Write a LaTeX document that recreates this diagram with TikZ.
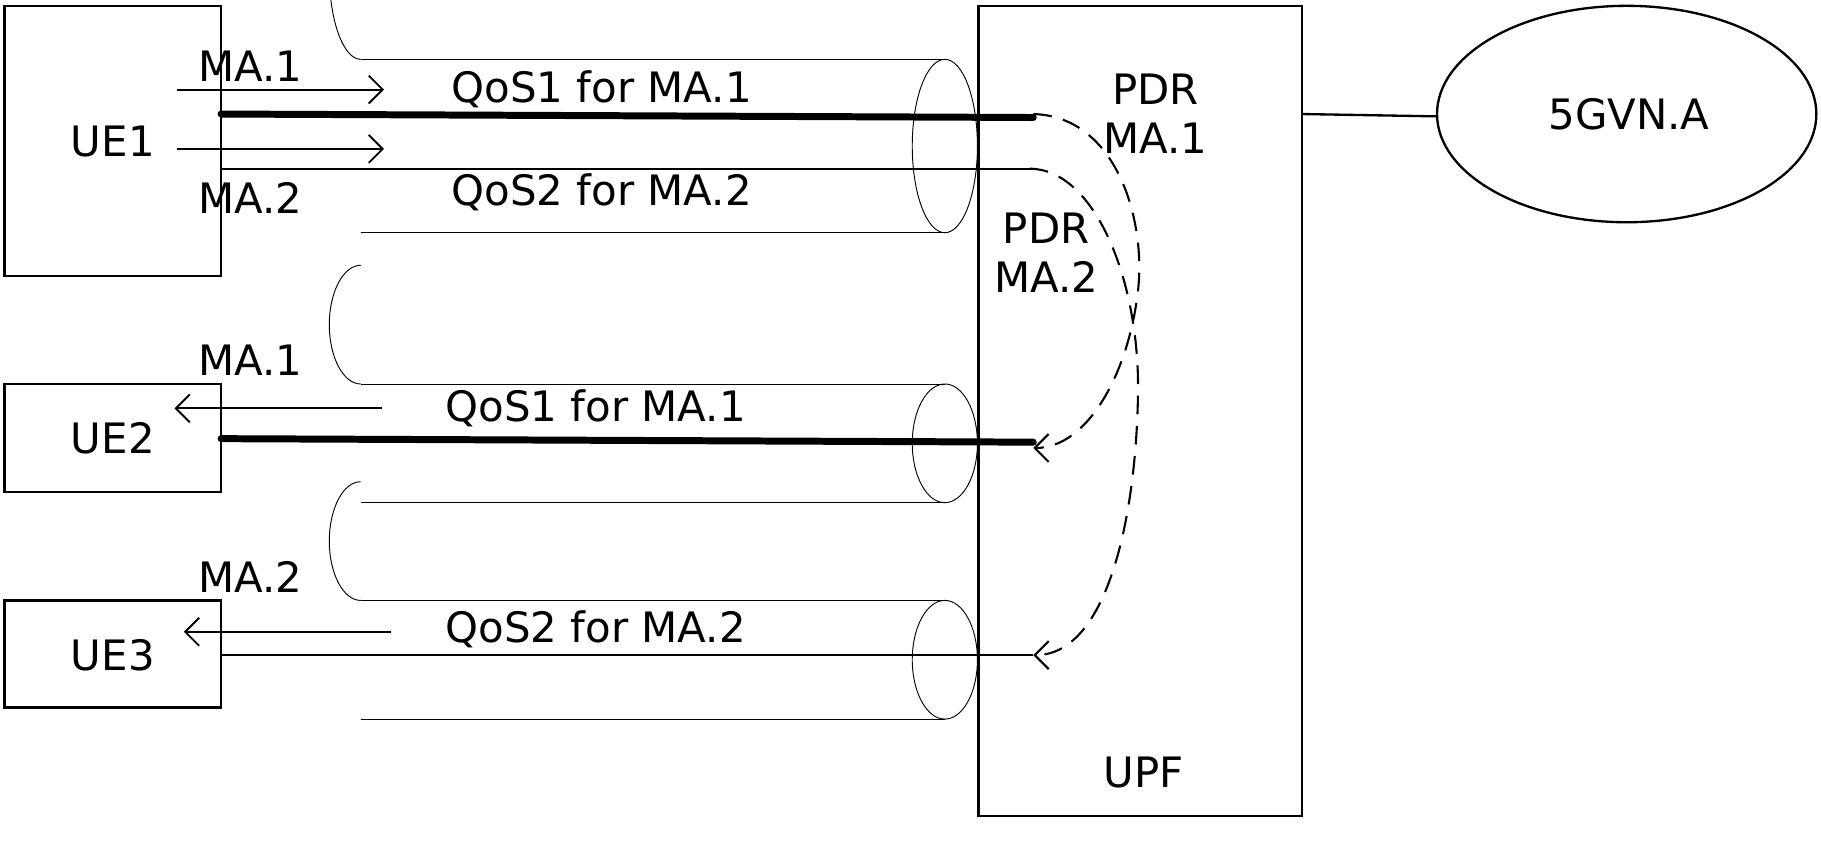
\documentclass[tikz,border=0pt]{standalone}
\usepackage{fontspec}
\setmainfont{DejaVu Sans}
\usetikzlibrary{arrows.meta}
\begin{document}
\begin{tikzpicture}[x=0.5pt,y=-0.5pt,
 box/.style={draw,line width=1pt},
 lbl/.style={font=\fontsize{18}{21}\selectfont,inner sep=0pt},
 cyl/.style={draw,line width=0.4pt},
 arr/.style={-{Straight Barb[length=6pt,width=12pt]},line width=0.8pt},
 dsh/.style={-{Straight Barb[length=6pt,width=12pt]},dash pattern=on 8pt off 5pt,line width=0.9pt}]
\useasboundingbox (0,0) rectangle (1565,722);
% cylinders
\foreach \n/\a/\b in {c1/51/200,c2/330/432,c3/516/618}{
 \pgfmathsetmacro\m{(\a+\b)/2}\pgfmathsetmacro\r{(\b-\a)/2}
 \draw[cyl] (310,\a) -- (812,\a) (310,\b) -- (812,\b);
 \draw[cyl] (310,\a) arc[start angle=90,end angle=270,x radius=27,y radius=\r];
 \draw[cyl] (812,\m) ellipse[x radius=28,y radius=\r];
}
\draw[box] (4,5) rectangle (190,237); \node[lbl] (ue1) at (97,122) {UE1};
\draw[box] (4,330) rectangle (190,423); \node[lbl] (ue2) at (97,377) {UE2};
\draw[box] (4,516) rectangle (190,608); \node[lbl] (ue3) at (97,563) {UE3};
\draw[box] (841,5) rectangle (1119,701); \node[lbl] (upf) at (983,664) {UPF};
\draw[box] (1398,98) ellipse[x radius=163,y radius=93];
\node[lbl] (vn) at (1400,98) {5GVN.A};
\draw[line width=1pt] (1119,98) -- (1235,100);
% labels
\node[lbl] at (215,57) {MA.1};
\node[lbl] at (215,170) {MA.2};
\node[lbl] at (517,77) {QoS1 for MA.1};
\node[lbl] at (517,165) {QoS2 for MA.2};
\node[lbl,align=center] at (993,98) {PDR\\MA.1};
\node[lbl,align=center] at (899,217) {PDR\\MA.2};
\node[lbl] at (215,310) {MA.1};
\node[lbl] at (512,351) {QoS1 for MA.1};
\node[lbl] at (215,496) {MA.2};
\node[lbl] at (512,541) {QoS2 for MA.2};
% arrows
\draw[arr] (152,77) -- (330,77);
\draw[arr] (152,128) -- (330,128);
\draw[arr] (328,351) -- (150,351);
\draw[arr] (336,543) -- (158,543);
% lines
\draw[line width=3pt,line cap=round] (190,98) -- (888,101);
\draw[line width=1pt] (190,145) -- (885,145);
\draw[line width=3pt,line cap=round] (190,377) -- (888,380);
\draw[line width=1pt] (190,563) -- (888,563);
% dashed
\draw[dsh] (888,98) .. controls (960,100) and (985,190) .. (978,250) .. controls (970,320) and (935,385) .. (888,385);
\draw[dsh] (885,145) .. controls (940,145) and (980,240) .. (978,340) .. controls (976,450) and (950,563) .. (888,563);
\end{tikzpicture}
\end{document}
